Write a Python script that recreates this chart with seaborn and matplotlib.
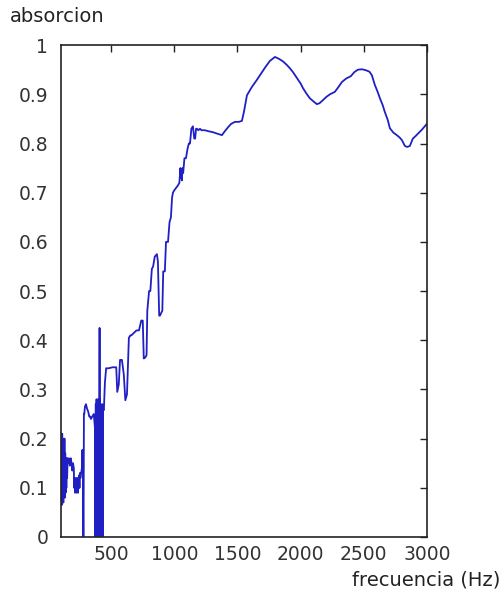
import matplotlib
matplotlib.use("Agg")
import matplotlib.pyplot as plt
import seaborn as sns
import pandas as pd

# frequency (Hz) and absorption values
freq = [100, 103, 106, 109, 112, 115, 118, 121, 124, 127, 130, 133, 136, 139, 142, 145, 148, 151,
        155, 160, 166, 172, 176, 180, 186, 192, 198, 204,
        207, 210, 213, 216, 219, 222, 225, 228, 231, 234, 237, 240, 243, 246, 249, 252, 256, 262,
        268, 272, 276, 279, 281, 284, 287, 292, 300, 310, 318, 326, 334, 340, 350, 362, 372,
        375, 378, 381, 384, 387, 390, 393, 396, 399, 402, 405, 408, 410, 412, 415, 418, 421,
        424, 427, 430, 433, 436, 442, 450, 460, 480, 510, 540, 548, 560, 570, 585, 600,
        612, 625, 640, 652, 660, 680, 700, 720, 738, 750, 758, 770, 780, 786,
        800, 810, 822, 832, 845, 862, 870, 880, 886, 895, 905, 912, 925, 934, 942, 950,
        962, 973, 982, 989, 1000, 1015, 1029, 1040, 1048, 1052, 1056, 1060, 1064, 1070,
        1080, 1092, 1105, 1115, 1124, 1135, 1147, 1158, 1165, 1172, 1179, 1190, 1203,
        1215, 1242, 1270, 1306, 1340, 1377, 1400, 1425, 1450, 1480, 1510, 1535, 1551, 1575,
        1614, 1650, 1686, 1720, 1757, 1797, 1830, 1860, 1890, 1915, 1940, 1971, 2000, 2018,
        2045, 2073, 2100, 2129, 2150, 2176, 2205, 2232, 2271, 2300, 2327, 2360, 2398,
        2425, 2453, 2485, 2517, 2545, 2564, 2588, 2610, 2628, 2650, 2667, 2690, 2707,
        2735, 2762, 2785, 2802, 2826, 2845, 2865, 2889, 2910, 2929, 2960, 3000]
absorcion = [0.21, 0.07, 0.20, 0.065, 0.21, 0.08, 0.20, 0.07, 0.19, 0.09, 0.20, 0.08, 0.17, 0.09, 0.16, 0.10, 0.16, 0.12,
             0.16, 0.15, 0.16, 0.145, 0.15, 0.16, 0.15, 0.135, 0.15, 0.14,
             0.10, 0.12, 0.09, 0.115, 0.095, 0.12, 0.09, 0.115, 0.10, 0.12, 0.09, 0.11, 0.10, 0.125, 0.10, 0.13, 0.12, 0.13,
             0.14, 0.177, 0.13, 0.0, 0.0, 0.25, 0.25, 0.265, 0.27, 0.26, 0.255, 0.245, 0.245, 0.24, 0.245, 0.25, 0.22,
             0.0, 0.27, 0.0, 0.28, 0.02, 0.27, 0.0, 0.28, 0.0, 0.27, 0.0, 0.425, 0.0, 0.28, 0.0, 0.27, 0.0,
             0.26, 0.0, 0.27, 0.0, 0.26, 0.258, 0.313, 0.343, 0.343, 0.345, 0.345, 0.295, 0.31, 0.36, 0.36, 0.33,
             0.278, 0.29, 0.405, 0.41, 0.41, 0.415, 0.42, 0.42, 0.44, 0.44, 0.363, 0.365, 0.37, 0.46,
             0.50, 0.50, 0.545, 0.55, 0.57, 0.575, 0.56, 0.45, 0.45, 0.455, 0.46, 0.54, 0.54, 0.60, 0.60, 0.60,
             0.64, 0.65, 0.69, 0.70, 0.705, 0.71, 0.715, 0.72, 0.75, 0.73, 0.745, 0.725, 0.75, 0.74,
             0.77, 0.77, 0.79, 0.80, 0.80, 0.83, 0.835, 0.81, 0.81, 0.83, 0.83, 0.827, 0.83,
             0.827, 0.827, 0.825, 0.823, 0.82, 0.817, 0.825, 0.833, 0.84, 0.844, 0.844, 0.846, 0.864, 0.898,
             0.915, 0.928, 0.942, 0.955, 0.968, 0.976, 0.972, 0.967, 0.96, 0.953, 0.945, 0.933, 0.922, 0.913,
             0.902, 0.892, 0.886, 0.88, 0.882, 0.888, 0.895, 0.90, 0.905, 0.915, 0.925, 0.932, 0.937,
             0.945, 0.95, 0.951, 0.949, 0.946, 0.939, 0.919, 0.905, 0.892, 0.878, 0.864, 0.848, 0.831,
             0.822, 0.817, 0.812, 0.807, 0.795, 0.793, 0.795, 0.81, 0.815, 0.82, 0.828, 0.84]

xticks = [500, 1000, 1500, 2000, 2500, 3000]
yticks = [0, 0.1, 0.2, 0.3, 0.4, 0.5, 0.6, 0.7, 0.8, 0.9, 1]
ytick_labels = ["0", "0.1", "0.2", "0.3", "0.4", "0.5", "0.6", "0.7", "0.8", "0.9", "1"]

df = pd.DataFrame({"frecuencia": freq, "absorcion": absorcion})

sns.set_style("white")
plt.rcParams['font.family'] = ['DejaVu Sans']

fig = plt.figure(figsize=(5.04, 5.94), dpi=100)
ax = fig.add_axes([0.1204, 0.096, 0.7266, 0.828])

sns.lineplot(data=df, x="frecuencia", y="absorcion", ax=ax, color="#1f1fc4",
             linewidth=1.3, sort=False, estimator=None)

ax.set_xlim(100, 3000)
ax.set_ylim(0, 1)
ax.set_xticks(xticks)
ax.set_xticklabels([str(t) for t in xticks])
ax.set_yticks(yticks)
ax.set_yticklabels(ytick_labels)
ax.set_xlabel("")
ax.set_ylabel("")
ax.tick_params(direction="in", length=5, width=1, top=True, right=True,
               labelsize=13.5, labelcolor="#333333", color="#222222")
ax.tick_params(axis="y", pad=9)
ax.tick_params(axis="x", pad=6)
for s in ax.spines.values():
    s.set_visible(True)
    s.set_color("#222222")
    s.set_linewidth(1.2)

fig.text(10 / 504, 1 - 17 / 594, "absorcion", fontsize=14, color="#222222",
         ha="left", va="center")
fig.text(500 / 504, 1 - 580 / 594, "frecuencia (Hz)", fontsize=14, color="#222222",
         ha="right", va="center")

fig.savefig("out.png", dpi=100, facecolor="white")
